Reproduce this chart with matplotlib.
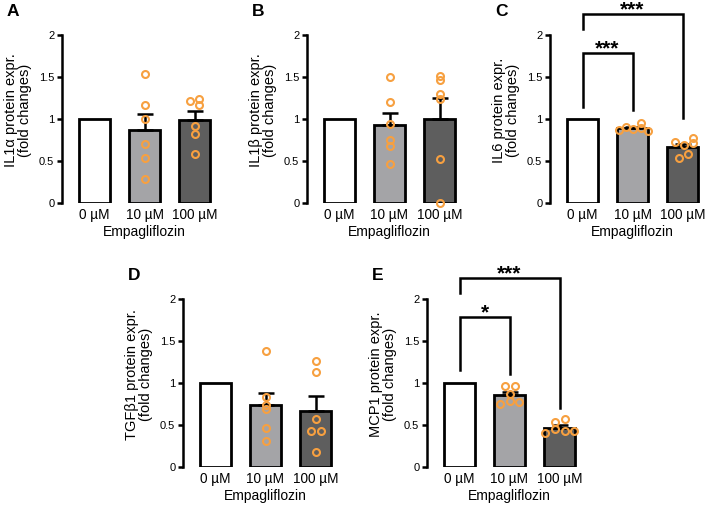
import matplotlib
matplotlib.use('Agg')
import matplotlib.pyplot as plt
import numpy as np

plt.rcParams['font.family'] = ['Liberation Sans', 'DejaVu Sans']

# doses and y tick labels
doses = ['0 µM', '10 µM', '100 µM']
yticks = [0, 0.5, 1, 1.5, 2]
yticklabels = ['0', '0.5', '1', '1.5', '2']

# individual fold changes (10 µM, 100 µM); 0 µM is the control = 1
il1a_10 = [1.53, 1.17, 1.00, 0.70, 0.54, 0.29]
il1a_100 = [1.22, 1.24, 1.17, 0.92, 0.82, 0.58]
il1b_10 = [1.50, 1.20, 0.94, 0.75, 0.68, 0.47]
il1b_100 = [1.51, 1.46, 1.30, 1.24, 0.52, 0.00]
il6_10 = [0.87, 0.905, 0.88, 0.956, 0.89, 0.86]
il6_100 = [0.73, 0.69, 0.77, 0.71, 0.535, 0.58]
tgfb1_10 = [1.38, 0.83, 0.74, 0.69, 0.46, 0.31]
tgfb1_100 = [1.26, 1.13, 0.57, 0.43, 0.43, 0.18]
mcp1_10 = [0.97, 0.97, 0.87, 0.75, 0.79, 0.77]
mcp1_100 = [0.40, 0.54, 0.57, 0.45, 0.43, 0.43]

# horizontal scatter of the dots (layout only)
jit_a = ([0, 0, 0, 0, 0, 0], [-0.09, 0.09, 0.09, 0, 0, 0])
jit_b = ([0] * 6, [0] * 6)
jit_c = ([-0.27, -0.13, 0.01, 0.16, 0.16, 0.31], [-0.16, 0.02, 0.21, 0.21, -0.07, 0.11])
jit_d = ([0] * 6, [0, 0, 0, -0.1, 0.1, 0])
jit_e = ([-0.09, 0.1, 0, -0.19, 0, 0.19], [-0.29, -0.09, 0.1, -0.09, 0.1, 0.29])

bar_colors = ['white', '#a4a4a7', '#5e5e5e']
dot_color = '#f7a040'

W, H = 705, 522
fig = plt.figure(figsize=(W / 100, H / 100), dpi=100)

AXW = 157.5


def make_ax(spine_x, y_top, y_bottom):
    return fig.add_axes([spine_x / W, (H - y_bottom) / H, AXW / W, (y_bottom - y_top) / H])


def panel(ax, letter, ylabel, g10, g100, jit, brackets=()):
    groups = [None, g10, g100]
    for i in range(3):
        if groups[i] is None:
            h, sem = 1.0, None
        else:
            v = np.array(groups[i])
            h = v.mean()
            sem = v.std(ddof=1) / np.sqrt(len(v))
        ax.bar(i, h, width=0.62, color=bar_colors[i], edgecolor='black', linewidth=2, zorder=2)
        if sem is not None:
            ax.errorbar(i, h, yerr=[[0], [sem]], color='black', capsize=6, capthick=1.8,
                        elinewidth=1.8, zorder=3)
            ax.plot(i + np.array(jit[i - 1]), groups[i], 'o', ms=5, mfc='none', mec=dot_color,
                    mew=1.5, zorder=4, clip_on=False)
    ax.set_xlim(-0.65, 2.5)
    ax.set_ylim(0, 2)
    for s in ['top', 'right', 'bottom']:
        ax.spines[s].set_visible(False)
    ax.spines['left'].set_linewidth(1.8)
    ax.set_yticks(yticks)
    ax.set_yticklabels(yticklabels, fontsize=8)
    ax.tick_params(axis='y', length=3.5, width=1.8, pad=2)
    ax.set_xticks(range(3))
    ax.set_xticklabels(doses, fontsize=9.8)
    ax.tick_params(axis='x', length=0, pad=3.5)
    ax.set_xlabel('Empagliflozin', fontsize=10)
    ax.xaxis.set_label_coords(1.65 / 3.15, -0.13)
    ax.set_ylabel(ylabel, fontsize=10.5, linespacing=1.05)
    ax.yaxis.set_label_coords(-0.19, 0.55)
    ax.text(-55 / AXW, 1.0 + 23 / 168, letter, transform=ax.transAxes, fontsize=12.5,
            fontweight='bold', ha='left', va='center')
    for x0, x1, y, yl, yr, stars in brackets:
        ax.plot([x0, x0, x1, x1], [yl, y, y, yr], color='black', lw=1.8, clip_on=False,
                solid_joinstyle='miter')
        ax.annotate(stars, xy=((x0 + x1) / 2, y), xytext=(0, -1), textcoords='offset points',
                    ha='center', va='baseline', fontsize=15, fontweight='bold',
                    annotation_clip=False)


axA = make_ax(62, 35, 203)
axB = make_ax(307, 35, 203)
axC = make_ax(550, 35, 203)
axD = make_ax(183, 299, 467)
axE = make_ax(427, 299, 467)

panel(axA, 'A', 'IL1α protein expr.\n(fold changes)', il1a_10, il1a_100, jit_a)
panel(axB, 'B', 'IL1β protein expr.\n(fold changes)', il1b_10, il1b_100, jit_b)
panel(axC, 'C', 'IL6 protein expr.\n(fold changes)', il6_10, il6_100, jit_c,
      brackets=[(0, 1, 1.78, 1.14, 1.11, '***'), (0, 2, 2.25, 2.07, 1.01, '***')])
panel(axD, 'D', 'TGFβ1 protein expr.\n(fold changes)', tgfb1_10, tgfb1_100, jit_d)
panel(axE, 'E', 'MCP1 protein expr.\n(fold changes)', mcp1_10, mcp1_100, jit_e,
      brackets=[(0, 1, 1.79, 1.15, 1.11, '*'), (0, 2, 2.25, 2.07, 0.70, '***')])

fig.savefig('out.png', dpi=100)
